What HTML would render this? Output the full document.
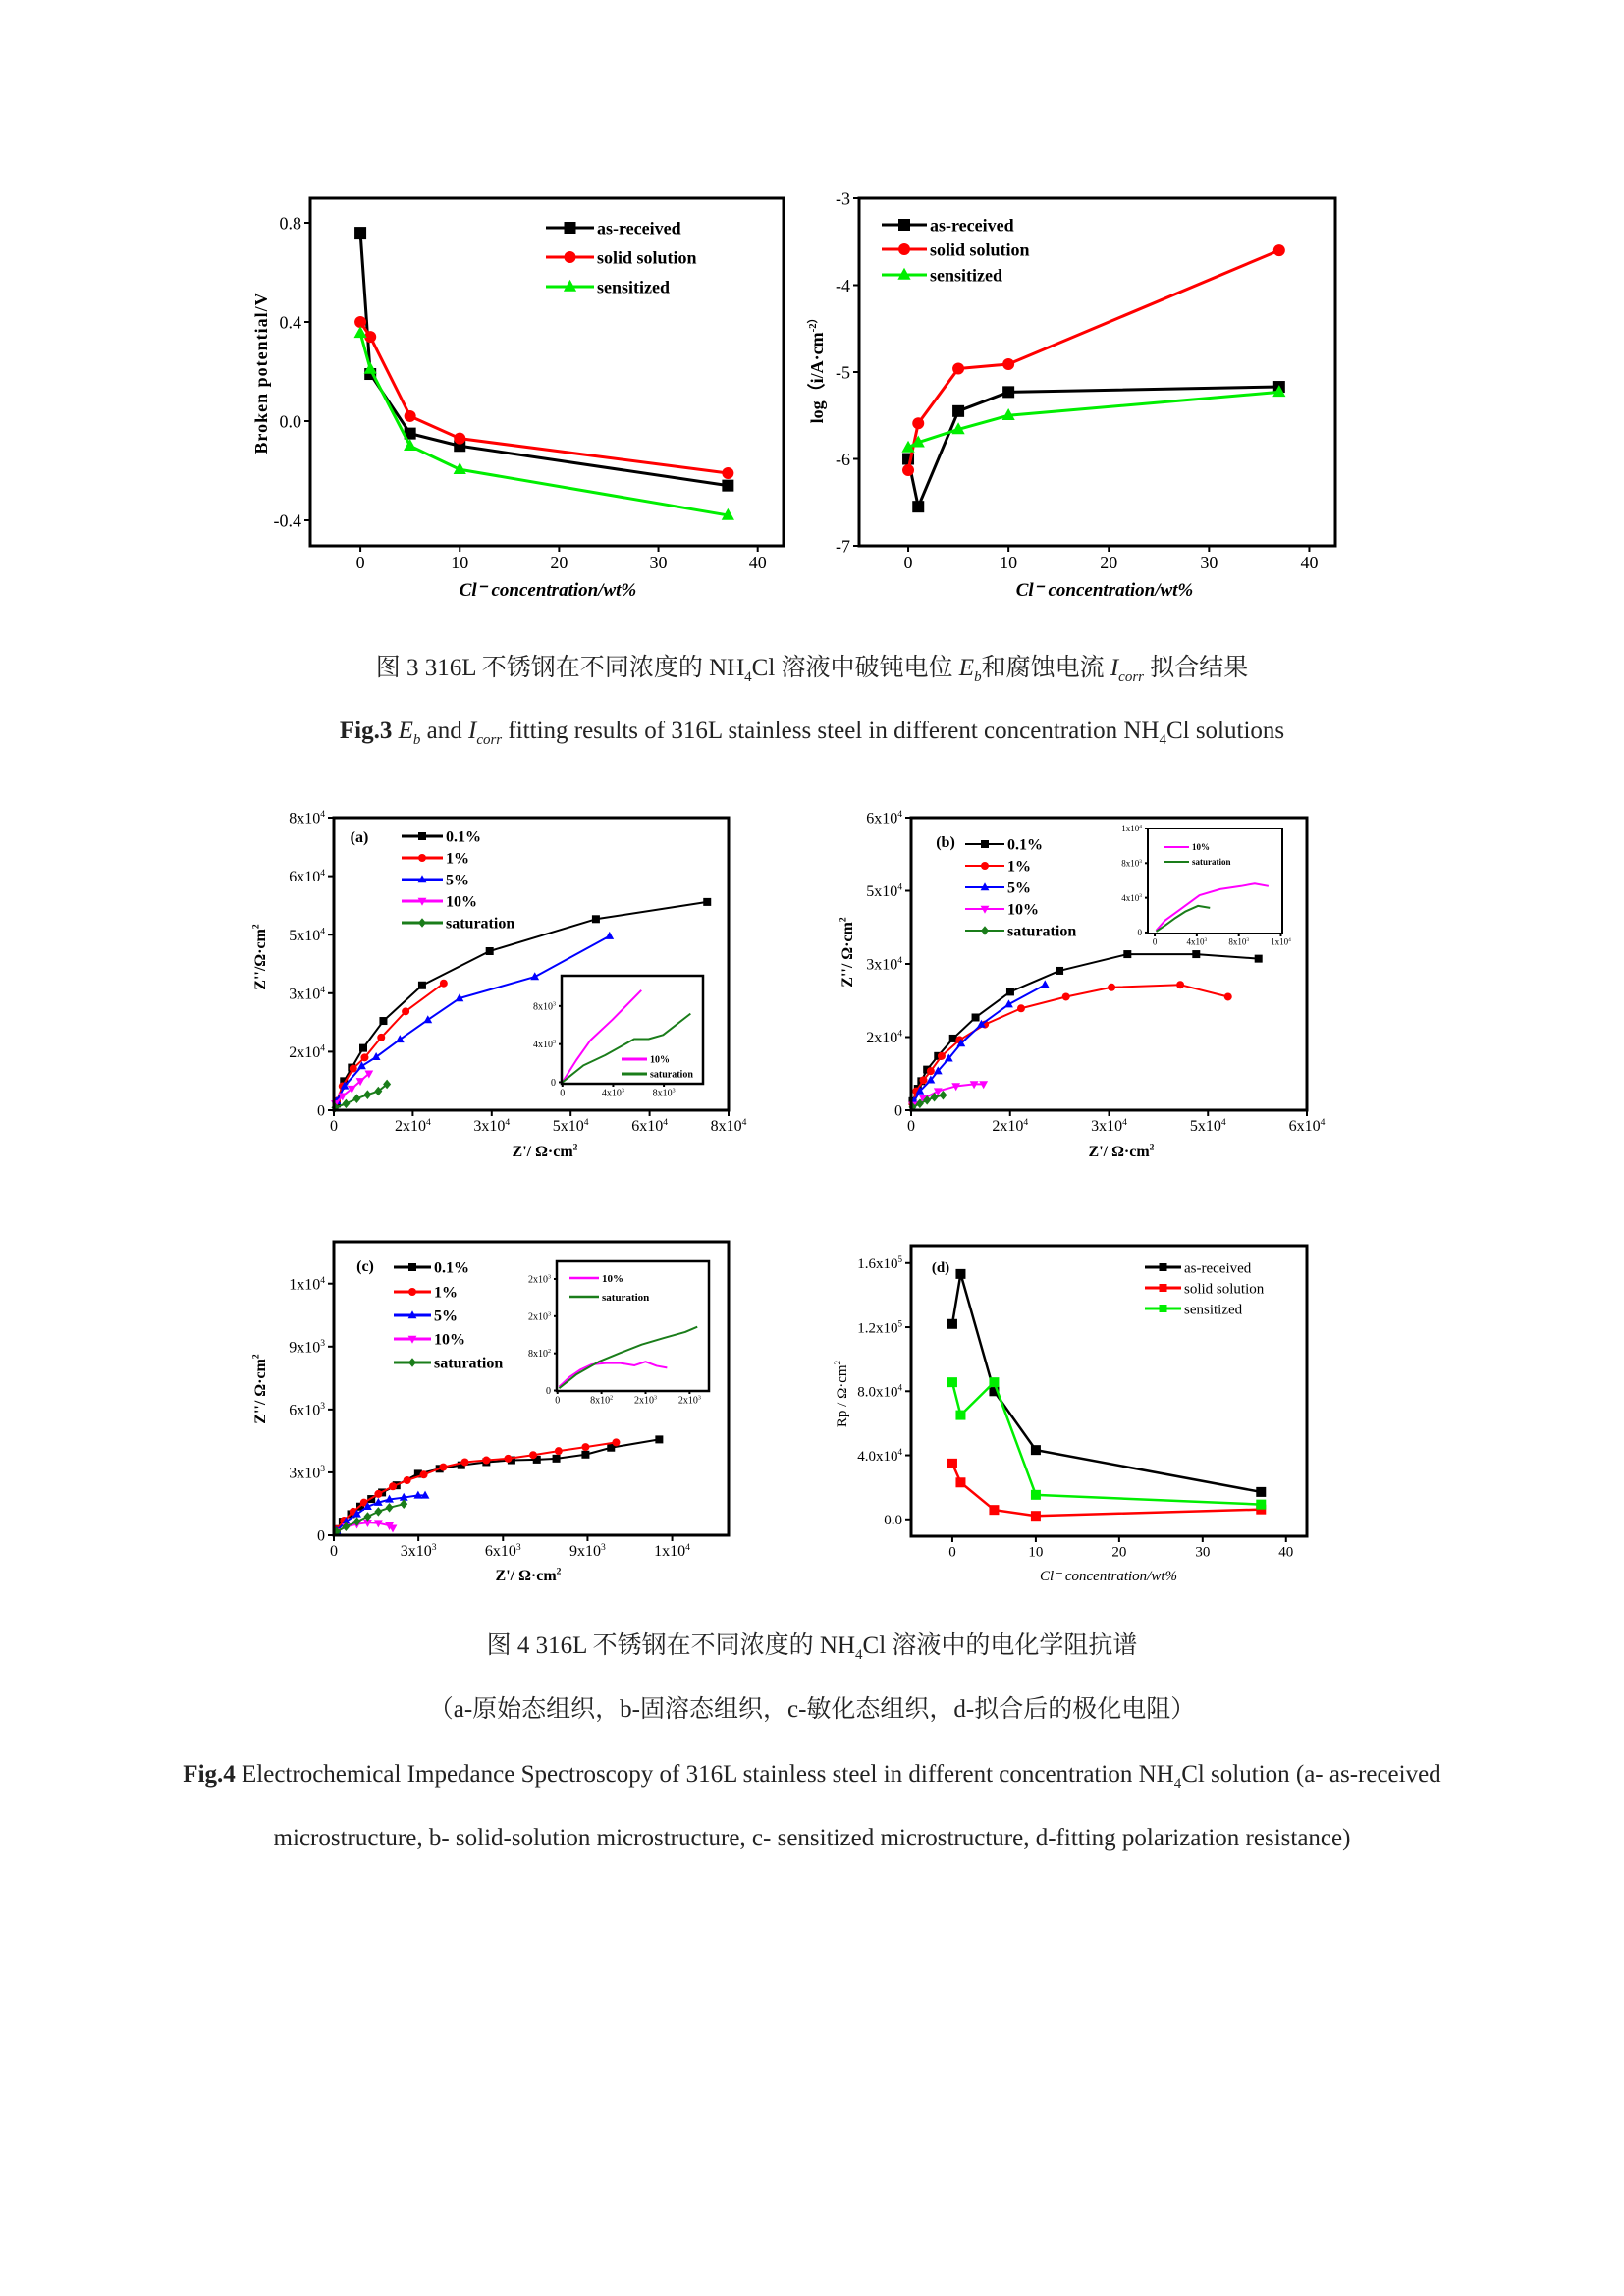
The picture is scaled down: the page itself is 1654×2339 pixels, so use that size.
<!DOCTYPE html>
<html><head><meta charset="utf-8">
<style>
html,body{margin:0;padding:0;background:#fff;}
#page{position:relative;width:1654px;height:2339px;overflow:hidden;background:#fff;font-family:"Liberation Serif","Noto Serif CJK SC",serif;}
svg{position:absolute;left:0;top:0;}
.cap{position:absolute;left:0;width:1654px;text-align:center;font-size:25px;color:#222;white-space:nowrap;line-height:30px;}
</style></head>
<body>
<div id="page">
<svg id="svg" width="1654" height="2339"></svg>
<div class="cap" style="top:666px">图 3 316L 不锈钢在不同浓度的 NH<sub style="font-size:15px">4</sub>Cl 溶液中破钝电位 <i>E<sub style="font-size:15px">b</sub></i>和腐蚀电流 <i>I<sub style="font-size:15px">corr</sub></i> 拟合结果</div>
<div class="cap" style="top:730px"><b>Fig.3</b> <i>E<sub style="font-size:15px">b</sub></i> and <i>I<sub style="font-size:15px">corr</sub></i> fitting results of 316L stainless steel in different concentration NH<sub style="font-size:15px">4</sub>Cl solutions</div>
<div class="cap" style="top:1662px">图 4 316L 不锈钢在不同浓度的 NH<sub style="font-size:15px">4</sub>Cl 溶液中的电化学阻抗谱</div>
<div class="cap" style="top:1727px">（a-原始态组织，b-固溶态组织，c-敏化态组织，d-拟合后的极化电阻）</div>
<div class="cap" style="top:1793px"><b>Fig.4</b> Electrochemical Impedance Spectroscopy of 316L stainless steel in different concentration NH<sub style="font-size:15px">4</sub>Cl solution (a- as-received</div>
<div class="cap" style="top:1858px">microstructure, b- solid-solution microstructure, c- sensitized microstructure, d-fitting polarization resistance)</div>
</div>
<script>
// ===== Data =====
const concX = [0, 1, 5, 10, 37];
const ebAsReceived = [0.76, 0.19, -0.05, -0.10, -0.26];
const ebSolid = [0.40, 0.34, 0.02, -0.07, -0.21];
const ebSensitized = [0.355, 0.21, -0.10, -0.195, -0.38];
const icAsReceived = [-6.0, -6.55, -5.45, -5.23, -5.17];
const icSolid = [-6.13, -5.59, -4.96, -4.91, -3.6];
const icSensitized = [-5.87, -5.81, -5.66, -5.5, -5.23];
const concTicks = [0, 10, 20, 30, 40];
const ebTicks = [-0.4, 0, 0.4, 0.8];
const ebTickLabels = ["-0.4", "0.0", "0.4", "0.8"];
const icTicks = [-7, -6, -5, -4, -3];
const icTickLabels = ["-7", "-6", "-5", "-4", "-3"];

// (a)
const aX01 = [580,2040,3640,5970,10040,17900,31580,53120,75670];
const aY01 = [1780,7960,11660,17010,24420,34160,43490,52270,56940];
const aX1 = [580,1750,3930,6260,9600,14550,22260];
const aY1 = [2470,6590,11390,14410,19890,27030,34710];
const aX5 = [580,2180,5670,8580,13390,19060,25460,40740,55870];
const aY5 = [2470,6590,12070,14540,19350,24700,30600,36490,47610];
const aX10 = [290,1750,3640,5380,7130];
const aY10 = [1780,3840,5900,7960,10020];
const aXsat = [290,2470,4660,6840,9020,10770];
const aYsat = [690,1780,3160,4250,5210,7130];
const aTicks = [0,16000,32000,48000,64000,80000];
const aTickLabels = ["0","2x10^4","3x10^4","5x10^4","6x10^4","8x10^4"];
const aInX10 = [0,1090,2230,3940,6230];
const aInY10 = [0,2290,4430,6560,9650];
const aInXsat = [0,1660,3370,5660,6800,7940,10110];
const aInYsat = [0,1760,2830,4530,4530,4960,7200];
const aInTicks = [0,4000,8000];
const aInTickLabels = ["0","4x10^3","8x10^3"];

// (b)
const bX01 = [220,1010,1540,2410,4060,6360,9760,15030,22490,32800,43220,52660];
const bY01 = [1850,4420,5970,8330,11110,14710,19030,24280,28600,32000,32000,31080];
const bX1 = [220,770,1860,2960,4610,7350,11190,16670,23480,30390,40810,48050];
const bY1 = [1340,3910,6170,8030,11110,14410,17600,20890,23260,25210,25730,23260];
const bX5 = [440,1320,2960,4060,5700,7570,10640,14810,20290];
const bY5 = [1850,3910,6170,8030,10600,13690,17600,21710,25730];
const bX10 = [220,1860,4060,6800,9540,10970];
const bY10 = [1030,2370,3910,4940,5350,5350];
const bXsat = [220,1320,2410,3510,4830];
const bYsat = [620,1340,2060,2680,3090];
const bTicks = [0,15000,30000,45000,60000];
const bTickLabels = ["0","2x10^4","3x10^4","5x10^4","6x10^4"];
const bInX10 = [130,980,2300,4260,6230,8200,9510,10820];
const bInY10 = [230,1390,2550,4290,4990,5340,5630,5340];
const bInXsat = [130,980,1970,2950,4130,5250];
const bInYsat = [120,810,1680,2440,3070,2840];
const bInTicks = [0,4000,8000,12000];
const bInTickLabels = ["0","4x10^3","8x10^3","1x10^4"];

// (c)
const cX01 = [100,310,610,940,1330,1710,2220,2990,3750,4520,5410,6300,7200,7890,8930,9830,11540];
const cY01 = [290,650,1010,1370,1730,2040,2380,2930,3170,3340,3490,3580,3610,3660,3850,4180,4570];
const cX1 = [100,360,690,1070,1580,2090,2600,3190,3880,4650,5410,6180,7070,7970,8930,10010];
const cY1 = [290,700,1130,1560,1970,2330,2620,2890,3250,3490,3580,3660,3830,4020,4210,4430];
const cX5 = [100,430,820,1200,1580,1970,2480,2990,3240];
const cY5 = [220,650,1010,1370,1560,1710,1800,1900,1900];
const cX10 = [100,430,820,1200,1580,1970,2090];
const cY10 = [170,410,530,600,580,460,340];
const cXsat = [100,430,820,1200,1580,1970,2480];
const cYsat = [170,410,650,890,1130,1320,1490];
const cTicks = [0,3000,6000,9000,12000];
const cTickLabels = ["0","3x10^3","6x10^3","9x10^3","1x10^4"];
const cInX10 = [30,220,420,620,880,1140,1400,1600,1800,1990];
const cInY10 = [80,290,450,560,590,590,540,620,530,490];
const cInXsat = [30,350,750,1140,1530,1930,2320,2540];
const cInYsat = [50,350,620,810,990,1130,1260,1370];
const cInTicks = [0,800,1600,2400];
const cInTickLabels = ["0","8x10^2","2x10^3","2x10^3"];

// (d)
const rpAsReceived = [122000,153200,80000,43300,17100];
const rpSolid = [34900,23000,5900,2200,6200];
const rpSensitized = [85600,65100,85600,15300,9300];
const rpTicks = [0,40000,80000,120000,160000];
const rpTickLabels = ["0.0","4.0x10^4","8.0x10^4","1.2x10^5","1.6x10^5"];

// ===== Drawing =====
const NS = "http://www.w3.org/2000/svg";
const svg = document.getElementById('svg');
function mk(tag, attrs, parent) {
  const e = document.createElementNS(NS, tag);
  for (const k in attrs) e.setAttribute(k, attrs[k]);
  (parent || svg).appendChild(e);
  return e;
}
function label(parent, x, y, str, size, anchor, extra) {
  const t = mk('text', Object.assign({x: x, y: y, 'font-size': size, 'text-anchor': anchor || 'middle', 'font-family': '"Liberation Serif", serif', fill: '#000'}, extra || {}), parent);
  const parts = str.split('^');
  t.appendChild(document.createTextNode(parts[0]));
  if (parts[1] !== undefined) {
    const s = mk('tspan', {dy: -size * 0.4, 'font-size': size * 0.6}, t);
    s.textContent = parts[1];
  }
  return t;
}
function marker(g, type, x, y, r, color) {
  let m;
  if (type === 'square') m = mk('rect', {x: x - r, y: y - r, width: 2 * r, height: 2 * r, fill: color}, g);
  else if (type === 'circle') m = mk('circle', {cx: x, cy: y, r: r, fill: color}, g);
  else if (type === 'up') m = mk('polygon', {points: `${x},${y - r * 1.2} ${x - r * 1.1},${y + r * 0.8} ${x + r * 1.1},${y + r * 0.8}`, fill: color}, g);
  else if (type === 'down') m = mk('polygon', {points: `${x},${y + r * 1.2} ${x - r * 1.1},${y - r * 0.8} ${x + r * 1.1},${y - r * 0.8}`, fill: color}, g);
  else m = mk('polygon', {points: `${x},${y - r * 1.2} ${x - r},${y} ${x},${y + r * 1.2} ${x + r},${y}`, fill: color}, g);
  
  
}
function chart(c) {
  const g = mk('g', {});
  
  
  const sx = v => c.x0 + (v - c.xd[0]) / (c.xd[1] - c.xd[0]) * (c.x1 - c.x0);
  const sy = v => c.y1 - (v - c.yd[0]) / (c.yd[1] - c.yd[0]) * (c.y1 - c.y0);
  const fs = c.fs || 18, tl = c.tl || 6;
  c.xticks.forEach((v, i) => {
    const x = sx(v);
    const t = mk('line', {x1: x, x2: x, y1: c.y1, y2: c.y1 + tl, stroke: '#000', 'stroke-width': 2}, g);
    
    
    const lb = label(g, x, c.y1 + tl + fs * 0.95, c.xlabels[i], fs, 'middle');
    
    
  });
  c.yticks.forEach((v, i) => {
    const y = sy(v);
    const t = mk('line', {x1: c.x0 - tl, x2: c.x0, y1: y, y2: y, stroke: '#000', 'stroke-width': 2}, g);
    
    
    const lb = label(g, c.x0 - tl - 3, y + fs * 0.35, c.ylabels[i], fs, 'end');
    
    
  });
  c.series.forEach(s => {
    const pts = s.xs.map((v, i) => sx(v) + ',' + sy(s.ys[i])).join(' ');
    const pl = mk('polyline', {points: pts, fill: 'none', stroke: s.color, 'stroke-width': c.lw || 2.5, 'stroke-linejoin': 'round'}, g);
    
    
    if (s.marker) s.xs.forEach((v, i) => marker(g, s.marker, sx(v), sy(s.ys[i]), c.mr || 5, s.color));
  });
  const fr = mk('rect', {x: c.x0, y: c.y0, width: c.x1 - c.x0, height: c.y1 - c.y0, fill: 'none', stroke: '#000', 'stroke-width': c.fw || 3}, g);
  
  
  if (c.legend) c.legend.forEach((L, i) => {
    const y = c.legend.ys[i];
    const ln = mk('line', {x1: c.legend.x0, x2: c.legend.x1, y1: y, y2: y, stroke: L.color, 'stroke-width': c.legend.lw || 3}, g);
    
    
    if (L.marker) marker(g, L.marker, (c.legend.x0 + c.legend.x1) / 2, y, c.legend.mr || 5, L.color);
    const t = label(g, c.legend.x1 + 3, y + c.legend.fs * 0.35, L.text, c.legend.fs, 'start', {'font-weight': c.legend.bold ? 'bold' : 'normal'});
    
    
  });
  return g;
}
function titleText(x, y, str, size, rot, extra, name) {
  const t = label(svg, x, y, str, size, 'middle', Object.assign(rot ? {transform: `rotate(-90 ${x} ${y})`} : {}, extra || {}));
  
  
}
function leg(items, x0, x1, ys, fs, mr, bold, lw) { items.x0 = x0; items.x1 = x1; items.ys = ys; items.fs = fs; items.mr = mr; items.bold = bold; items.lw = lw; return items; }

// Top-left chart
chart({name: 'broken-potential-chart', x0: 316, x1: 798, y0: 202, y1: 556, xd: [-5.05, 42.6], yd: [-0.503, 0.899],
  xticks: concTicks, xlabels: concTicks.map(String), yticks: ebTicks, ylabels: ebTickLabels, lw: 3, mr: 6,
  series: [
    {name: 'as-received-line', xs: concX, ys: ebAsReceived, color: '#000', marker: 'square'},
    {name: 'solid-solution-line', xs: concX, ys: ebSolid, color: '#ff0000', marker: 'circle'},
    {name: 'sensitized-line', xs: concX, ys: ebSensitized, color: '#00ee00', marker: 'up'}],
  legend: leg([{text: 'as-received', color: '#000', marker: 'square'}, {text: 'solid solution', color: '#ff0000', marker: 'circle'}, {text: 'sensitized', color: '#00ee00', marker: 'up'}], 556, 605, [232, 262, 292], 18, 6, true, 3)});
titleText(272, 380, 'Broken potential/V', 18, true, {'font-weight': 'bold', 'letter-spacing': '1'}, 'y-axis-title');
titleText(558, 607, 'Cl⁻ concentration/wt%', 19, false, {'font-style': 'italic', 'font-weight': 'bold'}, 'x-axis-title');

// Top-right chart
chart({name: 'corrosion-current-chart', x0: 875, x1: 1360, y0: 202, y1: 556, xd: [-4.9, 42.6], yd: [-7, -3],
  xticks: concTicks, xlabels: concTicks.map(String), yticks: icTicks, ylabels: icTickLabels, lw: 3, mr: 6,
  series: [
    {name: 'as-received-line', xs: concX, ys: icAsReceived, color: '#000', marker: 'square'},
    {name: 'solid-solution-line', xs: concX, ys: icSolid, color: '#ff0000', marker: 'circle'},
    {name: 'sensitized-line', xs: concX, ys: icSensitized, color: '#00ee00', marker: 'up'}],
  legend: leg([{text: 'as-received', color: '#000', marker: 'square'}, {text: 'solid solution', color: '#ff0000', marker: 'circle'}, {text: 'sensitized', color: '#00ee00', marker: 'up'}], 898, 944, [229, 254, 280], 18, 6, true, 3)});
titleText(838, 375, 'log（i/A·cm^-2）', 18, true, {'font-weight': 'bold'}, 'y-axis-title');
titleText(1125, 607, 'Cl⁻ concentration/wt%', 19, false, {'font-style': 'italic', 'font-weight': 'bold'}, 'x-axis-title');

const eisLeg = [{text: '0.1%', color: '#000', marker: 'square'}, {text: '1%', color: '#ff0000', marker: 'circle'}, {text: '5%', color: '#0000ff', marker: 'up'}, {text: '10%', color: '#ff00ff', marker: 'down'}, {text: 'saturation', color: '#1a7d1a', marker: 'diamond'}];

// (a)
chart({name: 'eis-chart-a', x0: 340, x1: 742, y0: 833, y1: 1131, xd: [0, 80000], yd: [0, 80000],
  xticks: aTicks, xlabels: aTickLabels, yticks: aTicks, ylabels: aTickLabels, lw: 2, mr: 4, fs: 16,
  series: [
    {name: 'series-0.1pct', xs: aX01, ys: aY01, color: '#000', marker: 'square'},
    {name: 'series-1pct', xs: aX1, ys: aY1, color: '#ff0000', marker: 'circle'},
    {name: 'series-5pct', xs: aX5, ys: aY5, color: '#0000ff', marker: 'up'},
    {name: 'series-10pct', xs: aX10, ys: aY10, color: '#ff00ff', marker: 'down'},
    {name: 'series-saturation', xs: aXsat, ys: aYsat, color: '#1a7d1a', marker: 'diamond'}],
  legend: leg(eisLeg.map(o => Object.assign({}, o)), 409, 451, [852, 874, 896, 918, 940], 16, 4, true, 3)});
titleText(366, 858, '(a)', 16, false, {'font-weight': 'bold'}, 'panel-label-a');
chart({name: 'inset-a', x0: 572, x1: 716, y0: 994, y1: 1104, xd: [-60, 11090], yd: [-160, 11180],
  xticks: aInTicks, xlabels: aInTickLabels, yticks: aInTicks, ylabels: aInTickLabels, lw: 2, fs: 10, tl: 3, fw: 2.5,
  series: [
    {name: 'inset-10pct', xs: aInX10, ys: aInY10, color: '#ff00ff'},
    {name: 'inset-saturation', xs: aInXsat, ys: aInYsat, color: '#1a7d1a'}],
  legend: leg([{text: '10%', color: '#ff00ff'}, {text: 'saturation', color: '#1a7d1a'}], 633, 659, [1079, 1094], 10, 3, true, 3)});
titleText(270, 975, "Z''/Ω·cm^2", 16, true, {'font-weight': 'bold'}, 'y-axis-title');
titleText(555, 1178, "Z'/ Ω·cm^2", 16, false, {'font-weight': 'bold'}, 'x-axis-title');

// (b)
chart({name: 'eis-chart-b', x0: 928, x1: 1331, y0: 833, y1: 1131, xd: [0, 60000], yd: [0, 60000],
  xticks: bTicks, xlabels: bTickLabels, yticks: bTicks, ylabels: bTickLabels, lw: 2, mr: 4, fs: 16,
  series: [
    {name: 'series-0.1pct', xs: bX01, ys: bY01, color: '#000', marker: 'square'},
    {name: 'series-1pct', xs: bX1, ys: bY1, color: '#ff0000', marker: 'circle'},
    {name: 'series-5pct', xs: bX5, ys: bY5, color: '#0000ff', marker: 'up'},
    {name: 'series-10pct', xs: bX10, ys: bY10, color: '#ff00ff', marker: 'down'},
    {name: 'series-saturation', xs: bXsat, ys: bYsat, color: '#1a7d1a', marker: 'diamond'}],
  legend: leg(eisLeg.map(o => Object.assign({}, o)), 983, 1023, [860, 882, 904, 926, 948], 16, 4, true, 2)});
titleText(963, 863, '(b)', 16, false, {'font-weight': 'bold'}, 'panel-label-b');
chart({name: 'inset-b', x0: 1169, x1: 1306, y0: 844, y1: 951, xd: [-660, 12140], yd: [-120, 12000],
  xticks: bInTicks, xlabels: bInTickLabels, yticks: bInTicks, ylabels: bInTickLabels, lw: 2, fs: 9, tl: 3, fw: 2,
  series: [
    {name: 'inset-10pct', xs: bInX10, ys: bInY10, color: '#ff00ff'},
    {name: 'inset-saturation', xs: bInXsat, ys: bInYsat, color: '#1a7d1a'}],
  legend: leg([{text: '10%', color: '#ff00ff'}, {text: 'saturation', color: '#1a7d1a'}], 1185, 1211, [863, 878], 9, 2, true, 2)});
titleText(868, 970, "Z''/ Ω·cm^2", 16, true, {'font-weight': 'bold'}, 'y-axis-title');
titleText(1142, 1178, "Z'/ Ω·cm^2", 16, false, {'font-weight': 'bold'}, 'x-axis-title');

// (c)
chart({name: 'eis-chart-c', x0: 340, x1: 742, y0: 1265, y1: 1564, xd: [0, 14000], yd: [0, 14000],
  xticks: cTicks, xlabels: cTickLabels, yticks: cTicks, ylabels: cTickLabels, lw: 2, mr: 4, fs: 16,
  series: [
    {name: 'series-0.1pct', xs: cX01, ys: cY01, color: '#000', marker: 'square'},
    {name: 'series-1pct', xs: cX1, ys: cY1, color: '#ff0000', marker: 'circle'},
    {name: 'series-5pct', xs: cX5, ys: cY5, color: '#0000ff', marker: 'up'},
    {name: 'series-10pct', xs: cX10, ys: cY10, color: '#ff00ff', marker: 'down'},
    {name: 'series-saturation', xs: cXsat, ys: cYsat, color: '#1a7d1a', marker: 'diamond'}],
  legend: leg(eisLeg.map(o => Object.assign({}, o)), 401, 439, [1291, 1316, 1340, 1364, 1388], 16, 4, true, 3)});
titleText(372, 1295, '(c)', 16, false, {'font-weight': 'bold'}, 'panel-label-c');
chart({name: 'inset-c', x0: 567, x1: 722, y0: 1285, y1: 1417, xd: [-13, 2750], yd: [-10, 2780],
  xticks: cInTicks, xlabels: cInTickLabels, yticks: cInTicks, ylabels: cInTickLabels, lw: 2, fs: 10, tl: 3, fw: 2.5,
  series: [
    {name: 'inset-10pct', xs: cInX10, ys: cInY10, color: '#ff00ff'},
    {name: 'inset-saturation', xs: cInXsat, ys: cInYsat, color: '#1a7d1a'}],
  legend: leg([{text: '10%', color: '#ff00ff'}, {text: 'saturation', color: '#1a7d1a'}], 580, 610, [1302, 1321], 11, 3, true, 2.5)});
titleText(270, 1415, "Z''/ Ω·cm^2", 16, true, {'font-weight': 'bold'}, 'y-axis-title');
titleText(538, 1610, "Z'/ Ω·cm^2", 16, false, {'font-weight': 'bold'}, 'x-axis-title');

// (d)
chart({name: 'polarization-resistance-chart-d', x0: 928, x1: 1331, y0: 1269, y1: 1565, xd: [-4.94, 42.5], yd: [-10550, 170900],
  xticks: concTicks, xlabels: concTicks.map(String), yticks: rpTicks, ylabels: rpTickLabels, lw: 2.5, mr: 5, fs: 15,
  series: [
    {name: 'as-received-line', xs: concX, ys: rpAsReceived, color: '#000', marker: 'square'},
    {name: 'solid-solution-line', xs: concX, ys: rpSolid, color: '#ff0000', marker: 'square'},
    {name: 'sensitized-line', xs: concX, ys: rpSensitized, color: '#00ee00', marker: 'square'}],
  legend: leg([{text: 'as-received', color: '#000', marker: 'square'}, {text: 'solid solution', color: '#ff0000', marker: 'square'}, {text: 'sensitized', color: '#00ee00', marker: 'square'}], 1166, 1203, [1291, 1312, 1333], 15, 4, false, 3)});
titleText(958, 1296, '(d)', 15, false, {'font-weight': 'bold'}, 'panel-label-d');
titleText(862, 1420, 'Rp / Ω·cm^2', 15, true, {}, 'y-axis-title');
titleText(1129, 1610, 'Cl⁻ concentration/wt%', 15, false, {'font-style': 'italic'}, 'x-axis-title');
</script>
</body></html>
